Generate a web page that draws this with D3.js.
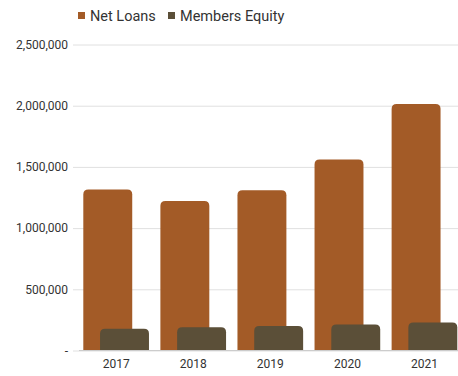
<!DOCTYPE html>
<html>
<head>
<meta charset="utf-8">
<script src="https://cdn.jsdelivr.net/npm/d3@7"></script>
<style>
  body { margin: 0; background: #fff; }
  text { font-family: Roboto, "Noto Sans", sans-serif; }
</style>
</head>
<body>
<div id="chart"></div>
<script>
const years = ["2017", "2018", "2019", "2020", "2021"];
const netLoans = [1315000, 1222000, 1310000, 1560000, 2013000];
const membersEquity = [177000, 190000, 200000, 213000, 229000];
const seriesNames = ["Net Loans", "Members Equity"];
const yTicks = [0, 500000, 1000000, 1500000, 2000000, 2500000];

const width = 458, height = 376;
const colors = ["#A35B27", "#5B4F38"];

let svg = d3.select("#chart").append("svg")
    .attr("width", width)
    .attr("height", height);

// scales
let xScale = d3.scaleBand()
    .domain(years)
    .range([77.6, 463])
    .paddingInner(0.148)
    .paddingOuter(0.074);
let yScale = d3.scaleLinear()
    .domain([0, 2500000])
    .range([350.5, 44.5]);

const barW = xScale.bandwidth() * 0.745;
const offset = xScale.bandwidth() - barW;

// grid + y labels
let yAxis = svg.append("g")
    .attr("transform", "translate(79,0)")
    .call(d3.axisLeft(yScale)
        .tickValues(yTicks)
        .tickSize(-(width - 79))
        .tickPadding(11)
        .tickFormat(d => d === 0 ? "-" : d3.format(",")(d)));
yAxis.select(".domain").remove();
yAxis.selectAll(".tick line")
    .attr("stroke", "#e0e0e0")
    .attr("x1", -6);
yAxis.selectAll(".tick text")
    .attr("fill", "#333")
    .attr("font-size", 12);

// rounded top bar
function topRounded(x, y, w, h, r) {
  r = Math.min(r, h, w / 2);
  return `M${x},${y + h}V${y + r}Q${x},${y} ${x + r},${y}H${x + w - r}Q${x + w},${y} ${x + w},${y + r}V${y + h}Z`;
}

const all = [netLoans, membersEquity];
all.forEach((vals, s) => {
  svg.append("g").selectAll("path")
    .data(vals)
    .enter()
    .append("path")
    .attr("d", (d, i) => {
      let x = xScale(years[i]) + (s === 0 ? 0 : offset);
      let y = yScale(d);
      return topRounded(x, y, barW, yScale(0) - y, 5);
    })
    .attr("fill", colors[s]);
});

// x axis
let xAxis = svg.append("g")
    .attr("transform", `translate(0,${yScale(0)})`)
    .call(d3.axisBottom(xScale).tickSize(0).tickPadding(9));
xAxis.select(".domain")
    .attr("stroke", "#ccc")
    .attr("d", `M79,0H${width}`);
xAxis.selectAll("text")
    .attr("fill", "#333")
    .attr("font-size", 12);

// legend
let legend = svg.append("g");
const legendX = [78, 168];
seriesNames.forEach((name, i) => {
  legend.append("rect")
    .attr("x", legendX[i])
    .attr("y", 12)
    .attr("width", 7)
    .attr("height", 7)
    .attr("fill", colors[i]);
  legend.append("text")
    .attr("x", legendX[i] + 12)
    .attr("y", 20.5)
    .attr("font-size", 14.5)
    .attr("fill", "#333")
    .text(name);
});
</script>
</body>
</html>
